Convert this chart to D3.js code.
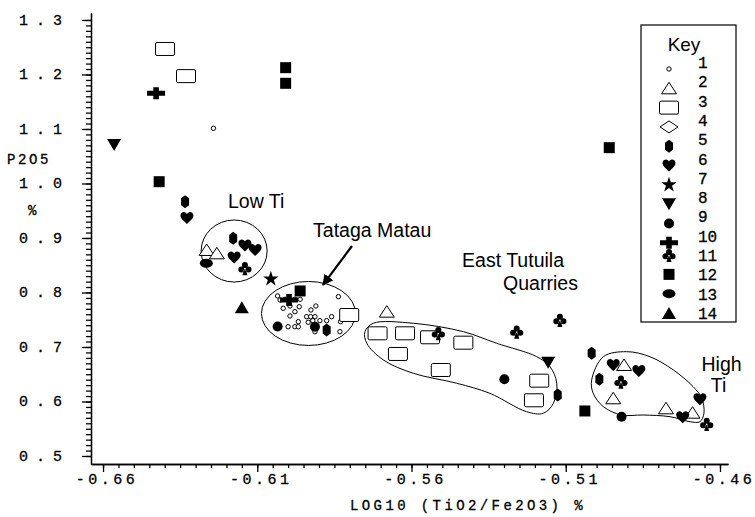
<!DOCTYPE html>
<html>
<head>
<meta charset="utf-8">
<script src="https://cdn.jsdelivr.net/npm/d3@7"></script>
<style>
body{margin:0;background:#fff}
svg{display:block}
.mono{font-family:"Liberation Mono","DejaVu Sans Mono",monospace;fill:#000;stroke:#000;stroke-width:0.3}
.sans{font-family:"Liberation Sans",Arial,sans-serif;fill:#000}
</style>
</head>
<body>
<script>
// P2O5 against log10(TiO2/Fe2O3), samples grouped by key 1-14
var xTicks = [-0.66, -0.61, -0.56, -0.51, -0.46];
var yTicks = [0.5, 0.6, 0.7, 0.8, 0.9, 1.0, 1.1, 1.2, 1.3];
var keyLabels = ["1","2","3","4","5","6","7","8","9","10","11","12","13","14"];

// [log10(TiO2/Fe2O3), P2O5]
var s1 = [[-0.6034,0.7936],[-0.6026,0.7862],[-0.6010,0.7875],[-0.5994,0.7752],[-0.5978,0.7875],
          [-0.5961,0.7875],[-0.6016,0.7710],[-0.5978,0.7648],[-0.5964,0.7739],[-0.5994,0.7569],
          [-0.5926,0.7679],[-0.5910,0.7752],[-0.5940,0.7556],[-0.5927,0.7556],[-0.5913,0.7556],
          [-0.5920,0.7483],[-0.5897,0.7483],[-0.5875,0.7483],[-0.5967,0.7464],[-0.5935,0.7453],
          [-0.6000,0.7372],[-0.5978,0.7372],[-0.5967,0.7372],[-0.5837,0.7923],[-0.5859,0.7556],
          [-0.5830,0.7464],[-0.5913,0.7281],[-0.5832,0.7281],[-0.6242,1.1013]];
var s2 = [[-0.6264,0.8780],[-0.6231,0.8719],[-0.5680,0.7648],[-0.4911,0.6670],[-0.4946,0.6059],
          [-0.4775,0.5875],[-0.4689,0.5794]];
var s3 = [[-0.6399,1.2468],[-0.6331,1.1970],[-0.5802,0.7587],[-0.5710,0.7251],[-0.5621,0.7251],
          [-0.5540,0.7178],[-0.5432,0.7079],[-0.5644,0.6872],[-0.5505,0.6578],[-0.5186,0.6382],
          [-0.5203,0.6022]];
var s4 = [];
var s5 = [[-0.6334,0.9666],[-0.6178,0.8995],[-0.5875,0.7312],[-0.5126,0.6119],[-0.5016,0.6884],
          [-0.4991,0.6407]];
var s6 = [[-0.6328,0.9367],[-0.6140,0.8862],[-0.6107,0.8780],[-0.6175,0.8642],[-0.4946,0.6670],
          [-0.4863,0.6560],[-0.4665,0.6040],[-0.4721,0.5710]];
var s7 = [[-0.6056,0.8248]];
var s8 = [[-0.6564,1.0706],[-0.5157,0.6712]];
var s9 = [[-0.6034,0.7376],[-0.5913,0.7372],[-0.5299,0.6407],[-0.4919,0.5721]];
var s10 = [[-0.6428,1.1655],[-0.5997,0.7862]];
var s11 = [[-0.6140,0.8444],[-0.5513,0.7251],[-0.5259,0.7281],[-0.5119,0.7495],[-0.4921,0.6363],
           [-0.4643,0.5587]];
var s12 = [[-0.6008,1.2125],[-0.6008,1.1838],[-0.6418,1.0033],[-0.4959,1.0657],[-0.5038,0.5826],
           [-0.5961,0.8028]];
var s13 = [[-0.6265,0.8536]];
var s14 = [[-0.6150,0.7728]];

// hand-drawn group outlines, in data units
var eastOutline = [[-0.5751,0.7281],[-0.5724,0.7435],[-0.5594,0.7435],[-0.5432,0.7281],[-0.5324,0.7068],
                   [-0.5194,0.6822],[-0.5151,0.6639],[-0.5129,0.6334],[-0.5140,0.5967],[-0.5173,0.5783],
                   [-0.5227,0.5813],[-0.5346,0.6150],[-0.5453,0.6334],[-0.5594,0.6517],[-0.5691,0.6761],
                   [-0.5745,0.7068]];
var highOutline = [[-0.5016,0.6394],[-0.4978,0.6822],[-0.4903,0.6914],[-0.4827,0.6822],[-0.4751,0.6578],
                   [-0.4687,0.6272],[-0.4659,0.6059],[-0.4652,0.5783],[-0.4665,0.5629],[-0.4697,0.5629],
                   [-0.4762,0.5721],[-0.4849,0.5752],[-0.4919,0.5752],[-0.4978,0.5905],[-0.5011,0.6150]];

var series = [s1,s2,s3,s4,s5,s6,s7,s8,s9,s10,s11,s12,s13,s14];

var W = 755, H = 517;
var svg = d3.select("body").append("svg").attr("width", W).attr("height", H);

var x = d3.scaleLinear().domain([-0.6639, -0.4574]).range([91, 728]);
var y = d3.scaleLinear().domain([0.4853, 1.3128]).range([464, 13]);

// axes: long major ticks, short minor ticks
svg.append("g").attr("transform", "translate(0,464)")
  .call(d3.axisBottom(x).tickValues(d3.range(-0.66, -0.4575, 0.005)).tickSize(4).tickSizeOuter(0).tickFormat(""));
svg.append("g").attr("transform", "translate(0,464)")
  .call(d3.axisBottom(x).tickValues(xTicks).tickSize(8).tickSizeOuter(0).tickFormat(""));
svg.append("g").attr("transform", "translate(91,0)")
  .call(d3.axisLeft(y).tickValues(d3.range(0.5, 1.3001, 0.01)).tickSize(5).tickSizeOuter(0).tickFormat(""));
svg.append("g").attr("transform", "translate(91,0)")
  .call(d3.axisLeft(y).tickValues(yTicks).tickSize(9).tickSizeOuter(0).tickFormat(""));
svg.selectAll(".domain, .tick line").attr("stroke", "#000").attr("stroke-width", 1.3);

svg.selectAll(".ylab").data(yTicks).enter().append("text")
  .attr("class", "mono").attr("font-size", 15).style("letter-spacing", "8px")
  .attr("text-anchor", "end").attr("x", 70).attr("y", function(d){ return y(d) + 5; })
  .text(function(d){ return d.toFixed(1); });
svg.selectAll(".xlab").data(xTicks).enter().append("text")
  .attr("class", "mono").attr("font-size", 15).style("letter-spacing", "3.5px")
  .attr("text-anchor", "middle").attr("x", function(d){ return x(d) + 4; }).attr("y", 484)
  .text(function(d){ return d.toFixed(2); });

svg.append("text").attr("class", "mono").attr("font-size", 14).style("letter-spacing", "2.6px")
  .attr("x", 7).attr("y", 164).text("P2O5");
svg.append("text").attr("class", "mono").attr("font-size", 14).attr("x", 28).attr("y", 215).text("%");
svg.append("text").attr("class", "mono").attr("font-size", 14).style("letter-spacing", "3.4px")
  .attr("text-anchor", "middle").attr("x", 468).attr("y", 510).text("LOG10 (TiO2/Fe2O3) %");

// symbol shapes
function circ(cx, cy, r){
  return "M" + (cx - r) + "," + cy + "a" + r + "," + r + " 0 1,0 " + (2 * r) + ",0a" + r + "," + r + " 0 1,0 " + (-2 * r) + ",0Z";
}
function poly(p){ return "M" + p.map(function(q){ return q.join(","); }).join("L") + "Z"; }
var shapes = [
  {d: circ(0, 0, 2.2), fill: "#fff", sw: 1},
  {d: poly([[0,-6],[7.5,5.5],[-7.5,5.5]]), fill: "#fff", sw: 1},
  {d: "M-8,-6.5h16a1.5,1.5 0 0 1 1.5,1.5v10a1.5,1.5 0 0 1 -1.5,1.5h-16a1.5,1.5 0 0 1 -1.5,-1.5v-10a1.5,1.5 0 0 1 1.5,-1.5Z", fill: "#fff", sw: 1},
  {d: poly([[0,-6],[9,0],[0,6],[-9,0]]), fill: "#fff", sw: 1},
  {d: poly([[0,-6.5],[4,-3.5],[4,3.5],[0,6.5],[-4,3.5],[-4,-3.5]]), fill: "#000", sw: 0},
  {d: "M0,6C-3,3 -6.5,0.5 -6.5,-2.5C-6.5,-5 -4.5,-6 -3,-6C-1.5,-6 -0.5,-5 0,-4C0.5,-5 1.5,-6 3,-6C4.5,-6 6.5,-5 6.5,-2.5C6.5,0.5 3,3 0,6Z", fill: "#000", sw: 0},
  {d: d3.symbol(d3.symbolStar, 75)(), fill: "#000", sw: 0},
  {d: poly([[-7,-6],[7,-6],[0,6]]), fill: "#000", sw: 0},
  {d: circ(0, 0, 5), fill: "#000", sw: 0},
  {d: poly([[-2.8,-6],[2.8,-6],[2.8,-2.5],[9,-2.5],[9,2.5],[2.8,2.5],[2.8,6],[-2.8,6],[-2.8,2.5],[-9,2.5],[-9,-2.5],[-2.8,-2.5]]), fill: "#000", sw: 0},
  {d: circ(0, -3.2, 3) + circ(-3.6, 1.2, 3) + circ(3.6, 1.2, 3) + "M-0.9,1L0.9,1L2.5,7L-2.5,7Z", fill: "#000", sw: 0},
  {d: "M-5.5,-5.5h11v11h-11Z", fill: "#000", sw: 0},
  {d: "M-6.5,0a6.5,4.5 0 1,0 13,0a6.5,4.5 0 1,0 -13,0Z", fill: "#000", sw: 0},
  {d: poly([[0,-6],[7,6],[-7,6]]), fill: "#000", sw: 0}
];

// group outlines and labels
var g = svg.append("g").attr("fill", "none").attr("stroke", "#000").attr("stroke-width", 1);
g.append("ellipse").attr("cx", x(-0.6175)).attr("cy", y(0.8761))
  .attr("rx", x(-0.6175 + 0.0107) - x(-0.6175)).attr("ry", y(0.8761) - y(0.8761 + 0.0569));
g.append("ellipse").attr("cx", x(-0.5934)).attr("cy", y(0.7615))
  .attr("rx", x(-0.5934 + 0.01524) - x(-0.5934)).attr("ry", y(0.7615) - y(0.7615 + 0.0587));
var outline = d3.line().x(function(d){ return x(d[0]); }).y(function(d){ return y(d[1]); }).curve(d3.curveCatmullRomClosed);
g.append("path").attr("d", outline(eastOutline));
g.append("path").attr("d", outline(highOutline));

svg.append("defs").append("marker").attr("id", "ah").attr("viewBox", "0 0 10 10")
  .attr("refX", 9).attr("refY", 5).attr("markerWidth", 5).attr("markerHeight", 5).attr("orient", "auto")
  .append("path").attr("d", "M0,0L10,5L0,10Z").attr("fill", "#000");
svg.append("line").attr("x1", x(-0.5793)).attr("y1", y(0.8853)).attr("x2", x(-0.5887)).attr("y2", y(0.8138))
  .attr("stroke", "#000").attr("stroke-width", 2.2).attr("marker-end", "url(#ah)");

var notes = [["Low Ti", -0.6195, 0.9550], ["Tataga Matau", -0.5919, 0.9018], ["East Tutuila", -0.5436, 0.8468],
             ["Quarries", -0.5303, 0.8037], ["High", -0.4660, 0.6560], ["Ti", -0.4630, 0.6180]];
svg.selectAll(".note").data(notes).enter().append("text").attr("class", "sans").attr("font-size", 19.5)
  .attr("x", function(d){ return x(d[1]); }).attr("y", function(d){ return y(d[2]); })
  .text(function(d){ return d[0]; });

// points
series.forEach(function(s, i){
  var sh = shapes[i];
  svg.append("g").selectAll("path").data(s).enter().append("path")
    .attr("transform", function(d){ return "translate(" + x(d[0]) + "," + y(d[1]) + ")"; })
    .attr("d", sh.d).attr("fill", sh.fill)
    .attr("stroke", sh.sw ? "#000" : "none").attr("stroke-width", sh.sw);
});

// key
var key = svg.append("g");
key.append("rect").attr("x", 641).attr("y", 25).attr("width", 95).attr("height", 297)
  .attr("fill", "#fff").attr("stroke", "#000").attr("stroke-width", 1.2);
key.append("text").attr("class", "sans").attr("font-size", 19).attr("text-anchor", "middle")
  .attr("x", 684).attr("y", 51).text("Key");
var rowY = d3.scaleLinear().domain([0, 13]).range([62, 313]);
keyLabels.forEach(function(lab, i){
  var sh = shapes[i];
  var sy = rowY(i) + (i < 10 ? 7 : 0);
  key.append("path").attr("transform", "translate(669," + sy + ")").attr("d", sh.d).attr("fill", sh.fill)
    .attr("stroke", sh.sw ? "#000" : "none").attr("stroke-width", sh.sw);
  key.append("text").attr("class", "mono").attr("font-size", 16).attr("x", 698).attr("y", rowY(i) + 6).text(lab);
});
</script>
</body>
</html>
